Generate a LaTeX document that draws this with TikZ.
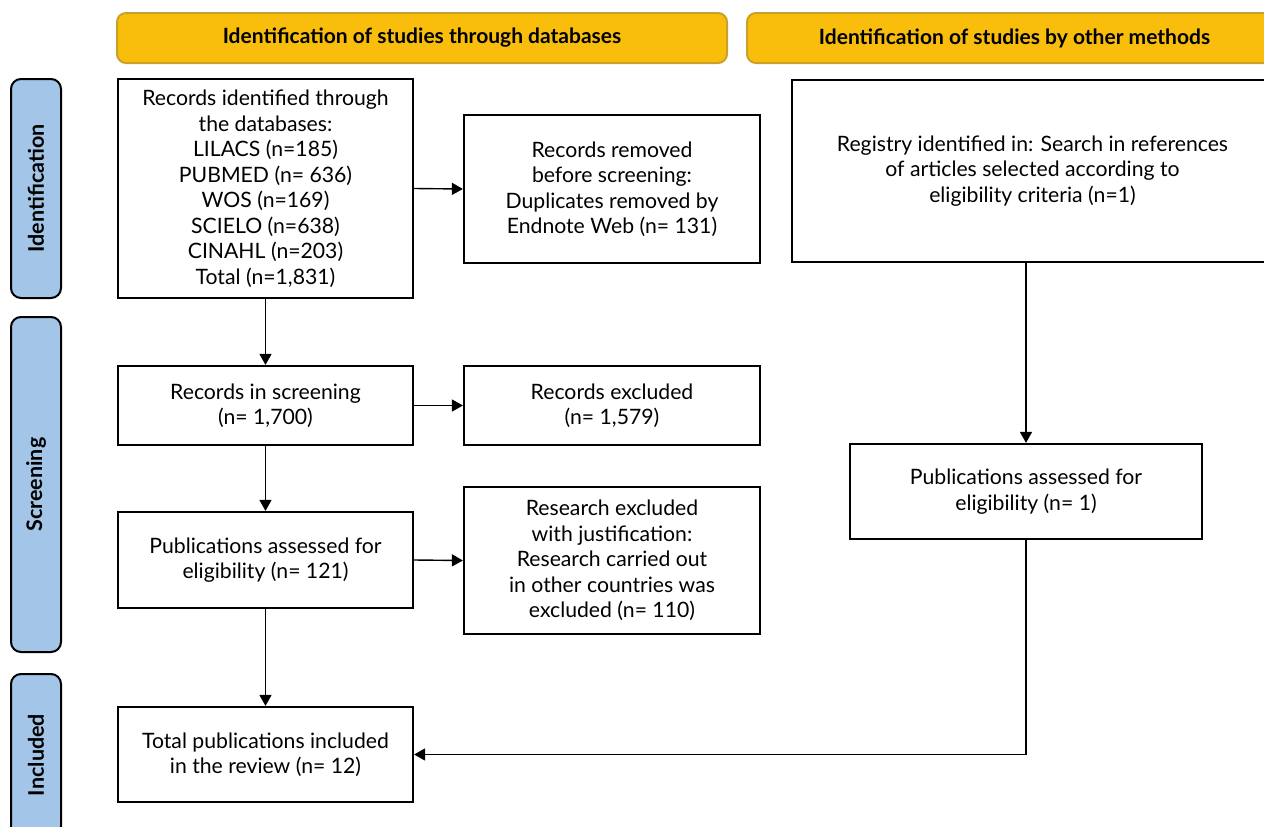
\documentclass[tikz,border=0pt]{standalone}
\usepackage{fontspec}
\setmainfont{Lato}
\usetikzlibrary{arrows.meta}
\definecolor{hdrfill}{HTML}{F9BD0C}
\definecolor{hdrdraw}{HTML}{C9A128}
\definecolor{sidefill}{HTML}{A3C6E8}
\begin{document}
\begin{tikzpicture}[x=1pt,y=-1pt,
 box/.style={draw=black, line width=2.2pt, fill=white, inner sep=0pt, align=center, font=\fontsize{21.2}{25.5}\selectfont},
 hdr/.style={draw=hdrdraw, line width=2pt, fill=hdrfill, rounded corners=9pt, inner sep=0pt, minimum height=50pt, font=\bfseries\fontsize{21}{24}\selectfont},
 side/.style={draw=black, line width=2pt, fill=sidefill, rounded corners=10pt, inner sep=0pt, minimum height=50pt, rotate=90, font=\bfseries\fontsize{21.5}{24}\selectfont},
 conn/.style={line width=1.4pt, draw=black},
 arr/.style={conn, -{Triangle[length=11pt,width=12pt]}}]
\useasboundingbox (0,0) rectangle (1264,827);

\node[hdr, minimum width=610pt] (h1) at (422,38) {Identification of studies through databases};
\node[hdr, minimum width=535pt] (h2) at (1014.5,38) {Identification of studies by other methods};

\node[side, minimum width=219pt] (s1) at (36,188.5) {Identification};
\node[side, minimum width=335pt] (s2) at (36,484.5) {Screening};
\node[side, minimum width=162pt] (s3) at (36,755) {Included};

\node[box, minimum width=295pt, minimum height=219pt] (b1) at (265.5,188.5) {Records identified through\\the databases:\\LILACS (n=185)\\PUBMED (n= 636)\\WOS (n=169)\\SCIELO (n=638)\\CINAHL (n=203)\\Total (n=1,831)};
\node[box, minimum width=296pt, minimum height=148pt] (rem) at (612,189) {Records removed\\before screening:\\Duplicates removed by\\Endnote Web (n= 131)};
\node[box, minimum width=481pt, minimum height=182pt] (reg) at (1032.5,171) {Registry identified in: Search in references\\of articles selected according to\\eligibility criteria (n=1)};

\node[box, minimum width=295pt, minimum height=79pt] (scr) at (265.5,405.5) {Records in screening\\(n= 1,700)};
\node[box, minimum width=296pt, minimum height=79pt] (exc) at (612,405.5) {Records excluded\\(n= 1,579)};

\node[box, minimum width=295pt, minimum height=96pt] (pub) at (265.5,560) {Publications assessed for\\eligibility (n= 121)};
\node[box, minimum width=296pt, minimum height=147pt] (res) at (612,560.5) {Research excluded\\with justification:\\Research carried out\\in other countries was\\excluded (n= 110)};
\node[box, minimum width=352pt, minimum height=95pt] (rpub) at (1026,491.5) {Publications assessed for\\eligibility (n= 1)};

\node[box, minimum width=295pt, minimum height=95pt] (tot) at (265.5,754.5) {Total publications included\\in the review (n= 12)};

\draw[arr] (b1.east) -- (rem.west);
\draw[arr] (b1.south) -- (scr.north);
\draw[arr] (scr.east) -- (exc.west);
\draw[arr] (scr.south) -- (pub.north);
\draw[arr] (pub.east) -- (res.west);
\draw[arr] (pub.south) -- (tot.north);
\draw[arr] (rpub.north |- reg.south) -- (rpub.north);
\draw[arr] (rpub.south) |- (tot.east);
\end{tikzpicture}
\end{document}
